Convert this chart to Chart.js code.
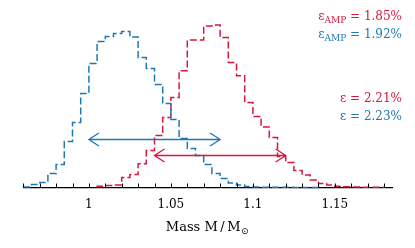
<!DOCTYPE html>
<html>
<head>
<meta charset="utf-8">
<script src="https://cdn.jsdelivr.net/npm/chart.js@4.4.1/dist/chart.umd.min.js"></script>
<style>
  html, body { margin: 0; padding: 0; background: #fff; }
  #wrap { width: 415px; height: 248px; }
  canvas { display: block; }
</style>
</head>
<body>
<div id="wrap"><canvas id="massChart" width="415" height="248"></canvas></div>
<script>
// left edges of the 0.005-wide mass bins
var massBins = [0.960, 0.965, 0.970, 0.975, 0.980, 0.985, 0.990, 0.995,
    1.000, 1.005, 1.010, 1.015, 1.020, 1.025, 1.030, 1.035, 1.040, 1.045,
    1.050, 1.055, 1.060, 1.065, 1.070, 1.075, 1.080, 1.085, 1.090, 1.095,
    1.100, 1.105, 1.110, 1.115, 1.120, 1.125, 1.130, 1.135, 1.140, 1.145,
    1.150, 1.155, 1.160, 1.165, 1.170, 1.175, 1.180];

// blue histogram (eps = 2.23%)
var blueCounts = [0.3, 0.5, 3, 5, 14, 23, 46, 65,
    94, 124, 146, 151, 154, 156, 150.5, 130, 119, 103,
    84, 68, 49, 39, 32, 23, 14, 9, 4.5, 2.5,
    1, 0.5, 0.3, 0.3, 0.2, 0.2, 0.1, 0.1, null, null,
    null, null, null, null, null, null, null];

// red histogram (eps = 2.21%)
var redCounts = [null, null, null, null, null, null, null, null,
    null, 0.3, 1.3, 2, 2.5, 10, 13, 23.7, 37, 52,
    70, 90, 116.7, 147.5, 147.5, 161.5, 162.5, 150, 125, 111.7,
    85, 71, 60.5, 50, 31, 25, 17, 12.5, 7.5, 4,
    2.5, 1.3, 0.7, 0.4, 0.3, 0.2, null];

var minorTicks = [0.96, 0.97, 0.98, 0.99, 1.00, 1.01, 1.02, 1.03, 1.04, 1.05, 1.06,
    1.07, 1.08, 1.09, 1.10, 1.11, 1.12, 1.13, 1.14, 1.15, 1.16, 1.17, 1.18];
var tickValues = [1, 1.05, 1.1, 1.15];
var tickLabels = ['1', '1.05', '1.1', '1.15'];

// spread arrows: [from, to] in mass, and height in count units
var blueArrow = [1.000, 1.080];
var blueArrowLevel = 48;
var redArrow = [1.040, 1.120];
var redArrowLevel = 32;

var RED = '#d6173e';
var BLUE = '#1f77b4';
var SERIF = '"DejaVu Serif", serif';

function stepPoints(counts) {
    var pts = [];
    var last = -1;
    for (var i = 0; i < counts.length; i++) {
        if (counts[i] === null) continue;
        pts.push({ x: massBins[i], y: counts[i] });
        last = i;
    }
    pts.push({ x: massBins[last + 1], y: counts[last] });
    return pts;
}

function drawArrow(ctx, x1, x2, y, color) {
    ctx.save();
    ctx.strokeStyle = color;
    ctx.lineWidth = 1.3;
    ctx.beginPath();
    ctx.moveTo(x1, y); ctx.lineTo(x2, y);
    ctx.moveTo(x1 + 10, y - 6.5); ctx.lineTo(x1, y); ctx.lineTo(x1 + 10, y + 6.5);
    ctx.moveTo(x2 - 10, y - 6.5); ctx.lineTo(x2, y); ctx.lineTo(x2 - 10, y + 6.5);
    ctx.stroke();
    ctx.restore();
}

// eps label with optional subscript, right aligned at xr
function drawEps(ctx, xr, y, sub, rest, color) {
    ctx.save();
    ctx.fillStyle = color;
    ctx.textBaseline = 'alphabetic';
    ctx.font = '12px ' + SERIF;
    var wEps = ctx.measureText('\u03b5').width;
    var wRest = ctx.measureText(rest).width;
    ctx.font = '9px ' + SERIF;
    var wSub = sub ? ctx.measureText(sub).width : 0;
    var x = xr - wRest - wSub - wEps;
    ctx.font = '12px ' + SERIF;
    ctx.fillText('\u03b5', x, y);
    if (sub) {
        ctx.font = '9px ' + SERIF;
        ctx.fillText(sub, x + wEps, y + 3);
    }
    ctx.font = '12px ' + SERIF;
    ctx.fillText(rest, x + wEps + wSub, y);
    ctx.restore();
}

var overlay = {
    id: 'overlay',
    afterDraw: function (chart) {
        var ctx = chart.ctx;
        var xs = chart.scales.x, ys = chart.scales.y;
        var bottom = chart.chartArea.bottom;

        // inward tick marks
        ctx.save();
        ctx.strokeStyle = '#000';
        ctx.lineWidth = 1;
        ctx.beginPath();
        minorTicks.forEach(function (v) {
            var px = Math.round(xs.getPixelForValue(v)) + 0.5;
            ctx.moveTo(px, bottom);
            ctx.lineTo(px, bottom - 4);
        });
        ctx.stroke();
        ctx.restore();

        drawArrow(ctx, xs.getPixelForValue(blueArrow[0]), xs.getPixelForValue(blueArrow[1]),
            ys.getPixelForValue(blueArrowLevel), BLUE);
        drawArrow(ctx, xs.getPixelForValue(redArrow[0]), xs.getPixelForValue(redArrow[1]),
            ys.getPixelForValue(redArrowLevel), RED);

        drawEps(ctx, 402, 19.5, 'AMP', ' = 1.85%', RED);
        drawEps(ctx, 402, 37.5, 'AMP', ' = 1.92%', BLUE);
        drawEps(ctx, 402, 101.5, '', ' = 2.21%', RED);
        drawEps(ctx, 402, 119.5, '', ' = 2.23%', BLUE);

        // axis title: Mass M/M_sun
        ctx.save();
        ctx.fillStyle = '#000';
        ctx.textBaseline = 'alphabetic';
        ctx.font = '13px ' + SERIF;
        var main = 'Mass M\u2009/\u2009M';
        var wMain = ctx.measureText(main).width;
        ctx.font = '9px "DejaVu Sans", sans-serif';
        var wSun = ctx.measureText('\u2299').width;
        var x0 = 207 - (wMain + wSun) / 2;
        ctx.font = '13px ' + SERIF;
        ctx.fillText(main, x0, 231);
        ctx.font = '9px "DejaVu Sans", sans-serif';
        ctx.fillText('\u2299', x0 + wMain + 0.5, 234);
        ctx.restore();
    }
};

var ctx = document.getElementById('massChart').getContext('2d');
var massChart = new Chart(ctx, {
    type: 'line',
    data: {
        datasets: [{
            label: 'blue',
            data: stepPoints(blueCounts),
            borderColor: BLUE,
            borderWidth: 1.5,
            borderDash: [7, 3],
            stepped: 'after',
            pointRadius: 0,
            fill: false,
            clip: 3
        }, {
            label: 'red',
            data: stepPoints(redCounts),
            borderColor: RED,
            borderWidth: 1.5,
            borderDash: [7, 3],
            stepped: 'after',
            pointRadius: 0,
            fill: false,
            clip: 3
        }]
    },
    options: {
        responsive: false,
        animation: false,
        events: [],
        layout: { padding: { top: 12.5, left: 23.3, right: 22.7, bottom: 0 } },
        plugins: { legend: { display: false }, tooltip: { enabled: false } },
        scales: {
            x: {
                type: 'linear',
                min: 0.96,
                max: 1.185,
                afterBuildTicks: function (scale) {
                    scale.ticks = minorTicks.map(function (v) { return { value: v }; });
                },
                afterFit: function (scale) { scale.height = 60.5; },
                grid: { display: false },
                border: { display: true, color: '#000', width: 1.2 },
                ticks: {
                    autoSkip: false,
                    maxRotation: 0,
                    padding: 2,
                    color: '#000',
                    font: { family: SERIF, size: 12 },
                    callback: function (value) {
                        for (var k = 0; k < tickValues.length; k++) {
                            if (Math.abs(tickValues[k] - value) < 1e-9) return tickLabels[k];
                        }
                        return '';
                    }
                }
            },
            y: { display: false, min: 0, max: 175 }
        }
    },
    plugins: [overlay]
});
</script>
</body>
</html>
